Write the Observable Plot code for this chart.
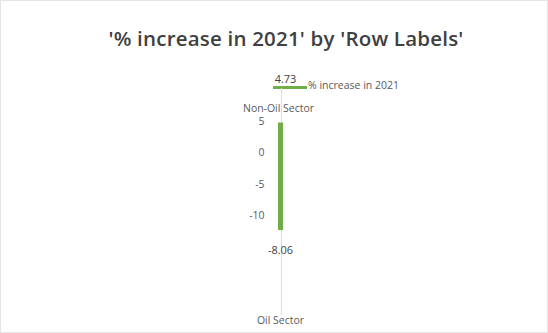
<!DOCTYPE html>
<html><head><meta charset="utf-8">
<script src="https://cdn.jsdelivr.net/npm/d3@7"></script>
<script src="https://cdn.jsdelivr.net/npm/@observablehq/plot@0.6"></script>
<style>
body{margin:0;background:#fff;font-family:"Open Sans",sans-serif;}
#wrap{position:relative;width:548px;height:333px;box-sizing:border-box;border:1px solid #e4e4e4;overflow:hidden;}
#title{height:61px;line-height:74px;text-align:center;font-size:20.5px;font-weight:600;color:#404040;letter-spacing:0.2px;padding-left:24px;}
#legend{position:absolute;left:272px;top:77px;font-size:10.5px;color:#595959;display:flex;align-items:center;}
#legend .sw{display:inline-block;width:34px;height:3px;background:#70ad47;margin-right:1px;margin-top:5px;}
#chart{position:absolute;left:0;top:61px;}
</style></head>
<body>
<div id="wrap">
<div id="title">'% increase in 2021' by 'Row Labels'</div>
<div id="legend"><span class="sw"></span><span>% increase in 2021</span></div>
<div id="chart"></div>
</div>
<script>
const categories = ["Non-Oil Sector", "Oil Sector"];
const values = [4.73, -8.06];
const series = "% increase in 2021";
const yTicks = [-10, -5, 0, 5];

const rows = [{series, top: values[0], bottom: values[1]}];
const labels = categories.map((c, i) => ({category: c, value: values[i], series}));

const plot = Plot.plot({
  width: 548,
  height: 271,
  marginLeft: 266,
  marginRight: 254,
  marginTop: 26,
  marginBottom: 17,
  style: {fontFamily: "'Open Sans', sans-serif", background: "transparent"},
  x: {type: "band", domain: [series], axis: null, padding: 0},
  y: {domain: [-10, 5], range: [154, 59], ticks: yTicks},
  marks: [
    Plot.ruleX([series], {x: d => d, stroke: "#dcdcdc", strokeWidth: 1, dx: 1}),
    Plot.barY(rows, {x: "series", y1: "top", y2: "bottom", fill: "#70ad47", insetLeft: 12, insetRight: 11, insetTop: 0, insetBottom: -27}),
    Plot.axisY({ticks: yTicks, tickSize: 0, tickPadding: 2, label: null, fontSize: 10.5, fill: "#595959", anchor: "left", tickFormat: d => String(d)}),
    Plot.text([labels[0]], {x: "series", y: "value", text: d => d.value.toFixed(2), dy: -44, dx: 5, fontSize: 11, fill: "#404040"}),
    Plot.text([labels[1]], {x: "series", y: "value", text: d => d.value.toFixed(2), dy: 47, dx: 0, fontSize: 11, fill: "#404040"}),
    Plot.text([labels[0]], {x: "series", frameAnchor: "top", text: "category", dy: 16, dx: -2, fontSize: 10.5, fill: "#595959"}),
    Plot.text([labels[1]], {x: "series", frameAnchor: "bottom", text: "category", dy: 8, dx: 0, fontSize: 10.5, fill: "#595959"})
  ]
});
document.getElementById("chart").appendChild(plot);
</script>
</body></html>
